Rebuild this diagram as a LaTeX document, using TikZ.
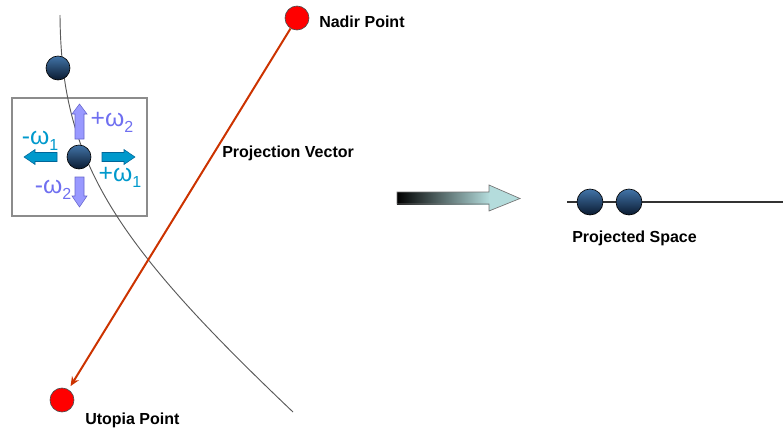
\documentclass[tikz,border=0pt]{standalone}
\usepackage{fontspec}
\setmainfont{Liberation Sans}
\usetikzlibrary{arrows.meta}
\definecolor{ballTop}{HTML}{4274A8}
\definecolor{ballBot}{HTML}{0A1A30}
\definecolor{purpA}{HTML}{9999FF}
\definecolor{purpB}{HTML}{6666CC}
\definecolor{purpT}{HTML}{6F6FF0}
\definecolor{cyanA}{HTML}{0099CC}
\definecolor{cyanB}{HTML}{006699}
\definecolor{vecred}{HTML}{CC3300}
\definecolor{headcyan}{HTML}{B4DCDC}
\tikzset{
  ball/.style={circle, minimum size=24*0.75pt, inner sep=0pt, draw=black, line width=0.5pt, top color=ballTop, bottom color=ballBot},
  redpt/.style={circle, minimum size=24*0.75pt, inner sep=0pt, draw=black!70, line width=0.5pt, fill=red},
  lbl/.style={font=\bfseries\fontsize{12}{14}\selectfont, inner sep=0pt},
  wlbl/.style={font=\fontsize{18.5}{20}\selectfont, inner sep=0pt},
  purparrow/.style={fill=purpA, draw=purpB, line width=0.4pt},
  cyanarrow/.style={fill=cyanA, draw=cyanB, line width=0.4pt},
}
\newcommand{\wsub}[1]{\raisebox{-0.45ex}{\fontsize{12}{13}\selectfont #1}}
\begin{document}
\begin{tikzpicture}[x=0.75pt,y=-0.75pt]
\useasboundingbox (0,0) rectangle (783,429);
% box
\draw[draw=black!45, line width=0.9pt] (12,98) rectangle (147,216);
% curve
\draw[black!65, line width=0.7pt] (60,15) .. controls (61,160) and (112,240) .. (293,412);
% block arrows
\draw[purparrow] (75,139) -- (75,114) -- (72,114) -- (79.5,104) -- (87,114) -- (84,114) -- (84,139) -- cycle;
\draw[purparrow] (75,177) -- (75,196) -- (72,196) -- (79.5,207) -- (87,196) -- (84,196) -- (84,177) -- cycle;
\draw[cyanarrow] (57,152.5) -- (35,152.5) -- (35,149.5) -- (24,157) -- (35,164.5) -- (35,161.5) -- (57,161.5) -- cycle;
\draw[cyanarrow] (102,152.5) -- (124,152.5) -- (124,149.5) -- (135,157) -- (124,164.5) -- (124,161.5) -- (102,161.5) -- cycle;
% balls
\node[ball] (b1) at (58,68) {};
\node[ball] (b2) at (79,157) {};
% omega labels
\node[wlbl, text=purpT] (wp2) at (112,122) {+ω\wsub{2}};
\node[wlbl, text=cyanA] (wm1) at (40,141) {-ω\wsub{1}};
\node[wlbl, text=cyanA] (wp1) at (120,177) {+ω\wsub{1}};
\node[wlbl, text=purpT] (wm2) at (53,190) {-ω\wsub{2}};
% nadir / utopia
\node[redpt] (nadir) at (297,18) {};
\node[redpt] (utopia) at (62,400) {};
\node[lbl, anchor=west] (nadirl) at (319,22) {Nadir Point};
\node[lbl, anchor=west] (utopial) at (85,420) {Utopia Point};
\draw[vecred, line width=1.5pt, -{Stealth[length=7pt, width=6pt]}, shorten >=3pt] (nadir) -- (utopia);
\node[lbl, anchor=west] (projv) at (222,153) {Projection Vector};
% gradient arrow
\shade[left color=black, right color=headcyan] (397,192) rectangle (489.5,204);
\fill[headcyan] (489,185) -- (520,198.5) -- (489,211) -- cycle;
\draw[black!55, line width=0.5pt] (397,192) -- (489,192) -- (489,185) -- (520,198.5) -- (489,211) -- (489,204) -- (397,204) -- cycle;
% projected space
\coordinate (ls) at (567,202);
\coordinate (le) at (783,202);
\draw[black!80, line width=0.8pt] (ls) -- (le);
\node[ball, minimum size=26*0.75pt] (p1) at (590,202) {};
\node[ball, minimum size=26*0.75pt] (p2) at (629,202) {};
\node[lbl, anchor=west] (projs) at (572,238) {Projected Space};
\end{tikzpicture}
\end{document}
